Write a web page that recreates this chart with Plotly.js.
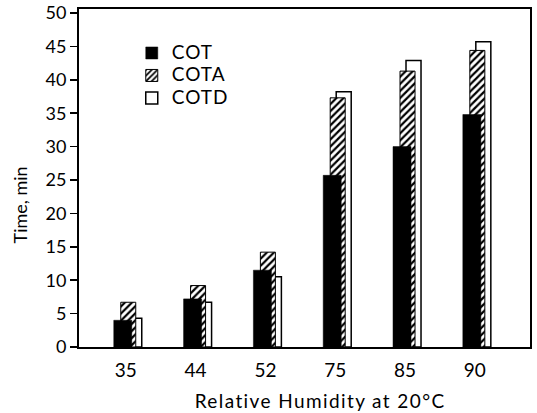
<!DOCTYPE html>
<html>
<head>
<meta charset="utf-8">
<script src="https://cdn.plot.ly/plotly-3.0.1.min.js"></script>
<style>
html,body{margin:0;padding:0;background:#fff}
#chart{width:537px;height:413px}
#chart text.legendtext{letter-spacing:1px}
</style>
</head>
<body>
<div id="chart"></div>
<script>
var categories = ['35', '44', '52', '75', '85', '90'];
var seriesNames = ['COT', 'COTA', 'COTD'];
var cot  = [4.0, 7.2, 11.5, 25.7, 30.0, 34.8];
var cota = [6.7, 9.2, 14.2, 37.3, 41.3, 44.4];
var cotd = [4.3, 6.7, 10.5, 38.2, 42.9, 45.7];
var yTicks = [0, 5, 10, 15, 20, 25, 30, 35, 40, 45, 50];

var idx = categories.map(function (c, i) { return i; });
var FONT = 'Lato, "Open Sans", sans-serif';
function legendName(s) { return '<span style="font-size:19px">' + s + '</span>'; }

var traces = [
  {
    type: 'bar', name: legendName(seriesNames[2]), x: idx, y: cotd, legendrank: 3,
    offset: 0.014, width: 0.215,
    marker: { color: '#ffffff', line: { color: '#000000', width: 1.5 } },
    hoverinfo: 'y'
  },
  {
    type: 'bar', name: legendName(seriesNames[1]), x: idx, y: cota, legendrank: 2,
    offset: -0.072, width: 0.215,
    marker: {
      color: '#ffffff',
      line: { color: '#000000', width: 1 },
      pattern: { shape: '/', fgcolor: '#000000', bgcolor: '#ffffff', size: 5, solidity: 0.45 }
    },
    hoverinfo: 'y'
  },
  {
    type: 'bar', name: legendName(seriesNames[0]), x: idx, y: cot, legendrank: 1,
    offset: -0.172, width: 0.258,
    marker: { color: '#000000', line: { color: '#000000', width: 0.5 } },
    hoverinfo: 'y'
  }
];

var layout = {
  width: 537, height: 413,
  margin: { l: 79, r: 7, t: 9, b: 66 },
  paper_bgcolor: '#ffffff', plot_bgcolor: '#ffffff',
  barmode: 'overlay',
  showlegend: true,
  font: { family: FONT, color: '#000000', size: 18 },
  legend: {
    x: 0.117, y: 0.918, xanchor: 'left', yanchor: 'top',
    bgcolor: 'rgba(0,0,0,0)', borderwidth: 0,
    font: { family: FONT, size: 15, color: '#000000' }
  },
  xaxis: {
    range: [-0.67, 5.79],
    tickmode: 'array', tickvals: idx, ticktext: categories,
    ticks: '', ticklabelstandoff: 5,
    showgrid: false, zeroline: false,
    showline: true, linecolor: '#000000', linewidth: 2, mirror: true,
    tickfont: { family: FONT, size: 19 }
  },
  yaxis: {
    range: [0, 50.6], tickmode: 'array', tickvals: yTicks,
    ticklabeloverflow: 'allow',
    ticks: 'outside', ticklen: 7, tickwidth: 1.5, tickcolor: '#000000',
    showgrid: false, zeroline: false,
    showline: true, linecolor: '#000000', linewidth: 2, mirror: true,
    tickfont: { family: FONT, size: 18 }
  },
  annotations: [
    {
      text: 'Time, min', textangle: -90, showarrow: false,
      xref: 'paper', yref: 'paper', x: -0.13, y: 0.42,
      xanchor: 'center', yanchor: 'middle',
      font: { family: FONT, size: 18, color: '#000000' }
    },
    {
      text: 'Relative Humidity at 20°C', showarrow: false,
      xref: 'paper', yref: 'paper', x: 0.534, y: -0.157,
      xanchor: 'center', yanchor: 'middle',
      font: { family: FONT, size: 19, color: '#000000' }
    }
  ]
};

Plotly.newPlot('chart', traces, layout, { displayModeBar: false, staticPlot: true }).then(function (gd) {
  var ann = gd.querySelectorAll('text.annotation-text');
  if (ann.length > 1) { ann[1].style.letterSpacing = '1.4px'; }
});
</script>
</body>
</html>
